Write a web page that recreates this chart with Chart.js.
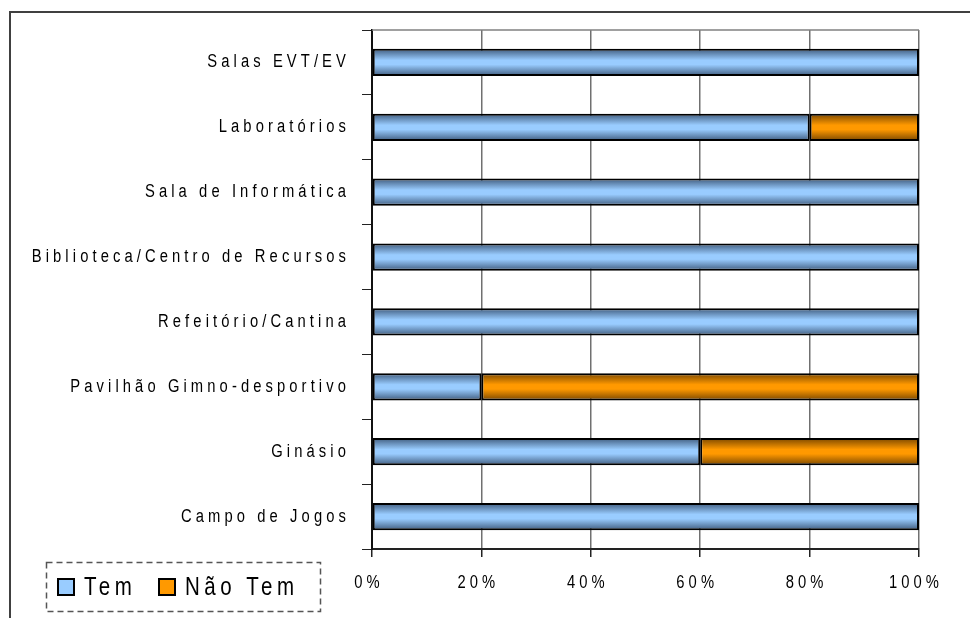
<!DOCTYPE html>
<html>
<head>
<meta charset="utf-8">
<script src="https://cdn.jsdelivr.net/npm/chart.js@4"></script>
<style>
  body { margin: 0; background: #fff; overflow: hidden; }
  #moldura { position: absolute; left: 9px; top: 11px; width: 2000px; height: 2000px;
             border-top: 2px solid #404040; border-left: 2px solid #404040; }
  #caixa { position: absolute; left: 0; top: 0; width: 970px; height: 618px; }
</style>
</head>
<body>
<div id="moldura"></div>
<div id="caixa"><canvas id="grafico"></canvas></div>

<script>
// dados (de cima para baixo)
const categorias = ['Salas EVT/EV', 'Laboratórios', 'Sala de Informática', 'Biblioteca/Centro de Recursos',
    'Refeitório/Cantina', 'Pavilhão Gimno-desportivo', 'Ginásio', 'Campo de Jogos'];
const tem = [100, 80, 100, 100, 100, 20, 60, 100];
const naoTem = [0, 20, 0, 0, 0, 80, 40, 0];
const marcasX = [0, 20, 40, 60, 80, 100];

const corTem = ['#3f5b7d', '#99ccff'];
const corNaoTem = ['#7a4700', '#ff9900'];
const familia = '"Liberation Sans", Arial, sans-serif';

// gradiente vertical em cada barra (escuro nas bordas, claro no meio)
function gradiente(cores) {
    return (ctx) => {
        const chart = ctx.chart;
        const y = chart.scales.y;
        if (!chart.chartArea || !y || ctx.dataIndex === undefined) return cores[1];
        const centro = y.getPixelForValue(ctx.dataIndex);
        const meia = y.height / categorias.length * 0.42 / 2;
        const g = chart.ctx.createLinearGradient(0, centro - meia, 0, centro + meia);
        g.addColorStop(0, cores[0]);
        g.addColorStop(0.42, cores[1]);
        g.addColorStop(0.58, cores[1]);
        g.addColorStop(1, cores[0]);
        return g;
    };
}

// texto estreito (tipo Arial Narrow) com espaçamento entre letras
const estreito = {
    id: 'estreito',
    beforeDraw(chart) {
        const c = chart.ctx;
        if (!c._estreito) {
            const original = c.fillText.bind(c);
            c.fillText = function (t, x, y) {
                this.save();
                this.translate(x, y);
                this.scale(0.82, 1);
                original(t, 0, 0);
                this.restore();
            };
            c._estreito = true;
        }
        c.letterSpacing = '5px';
    },
    beforeDatasetsDraw(chart) {
        const a = chart.chartArea;
        const c = chart.ctx;
        c.save();
        c.strokeStyle = '#808080';
        c.lineWidth = 1.5;
        c.beginPath();
        c.moveTo(a.left, a.top);
        c.lineTo(a.right, a.top);
        c.stroke();
        c.restore();
    },
    afterDraw(chart) {
        // legenda com caixa tracejada
        const c = chart.ctx;
        c.save();
        c.setLineDash([6, 4]);
        c.strokeStyle = '#555';
        c.lineWidth = 1.5;
        c.strokeRect(46.5, 562.5, 274, 49);
        c.setLineDash([]);
        c.font = '25px ' + familia;
        c.letterSpacing = '5.5px';
        c.fillStyle = '#000';
        c.textAlign = 'left';
        c.textBaseline = 'alphabetic';
        const posicoes = [57, 158];
        const cores = [corTem, corNaoTem];
        chart.data.datasets.forEach((ds, i) => {
            const x = posicoes[i];
            c.fillStyle = cores[i][1];
            c.fillRect(x, 578, 18, 18);
            c.strokeStyle = '#000';
            c.lineWidth = 2;
            c.strokeRect(x + 1, 579, 16, 16);
            c.fillStyle = '#000';
            c.fillText(ds.label, x + 27, 595);
        });
        c.restore();
    }
};

const fonte = { family: familia, size: 18 };

const grafico = new Chart(document.getElementById('grafico'), {
    type: 'bar',
    data: {
        labels: categorias,
        datasets: [{
            label: 'Tem',
            data: tem,
            backgroundColor: gradiente(corTem),
            borderColor: '#000',
            borderWidth: 2,
            borderSkipped: false,
            categoryPercentage: 1,
            barPercentage: 0.42
        }, {
            label: 'Não Tem',
            data: naoTem,
            backgroundColor: gradiente(corNaoTem),
            borderColor: '#000',
            borderWidth: 2,
            borderSkipped: false,
            categoryPercentage: 1,
            barPercentage: 0.42
        }]
    },
    options: {
        indexAxis: 'y',
        responsive: true,
        maintainAspectRatio: false,
        animation: false,
        layout: { padding: { top: 30, right: 51, bottom: 0, left: 0 } },
        plugins: { legend: { display: false }, tooltip: { enabled: false } },
        scales: {
            x: {
                stacked: true,
                min: 0,
                max: 100,
                afterBuildTicks: (s) => { s.ticks = marcasX.map(v => ({ value: v })); },
                afterFit: (s) => { s.height = 69; },
                grid: { color: '#707070', lineWidth: 1.5, tickLength: 8, tickColor: '#222' },
                border: { color: '#222', width: 2 },
                ticks: { color: '#000', font: fonte, padding: 15, labelOffset: -3, callback: v => v + '%' }
            },
            y: {
                stacked: true,
                afterFit: (s) => { s.width = 372; },
                grid: { drawOnChartArea: false, offset: true, tickLength: 10, color: '#222' },
                border: { color: '#111', width: 2 },
                ticks: { color: '#000', font: fonte, padding: 12 }
            }
        }
    },
    plugins: [estreito]
});
</script>
</body>
</html>
